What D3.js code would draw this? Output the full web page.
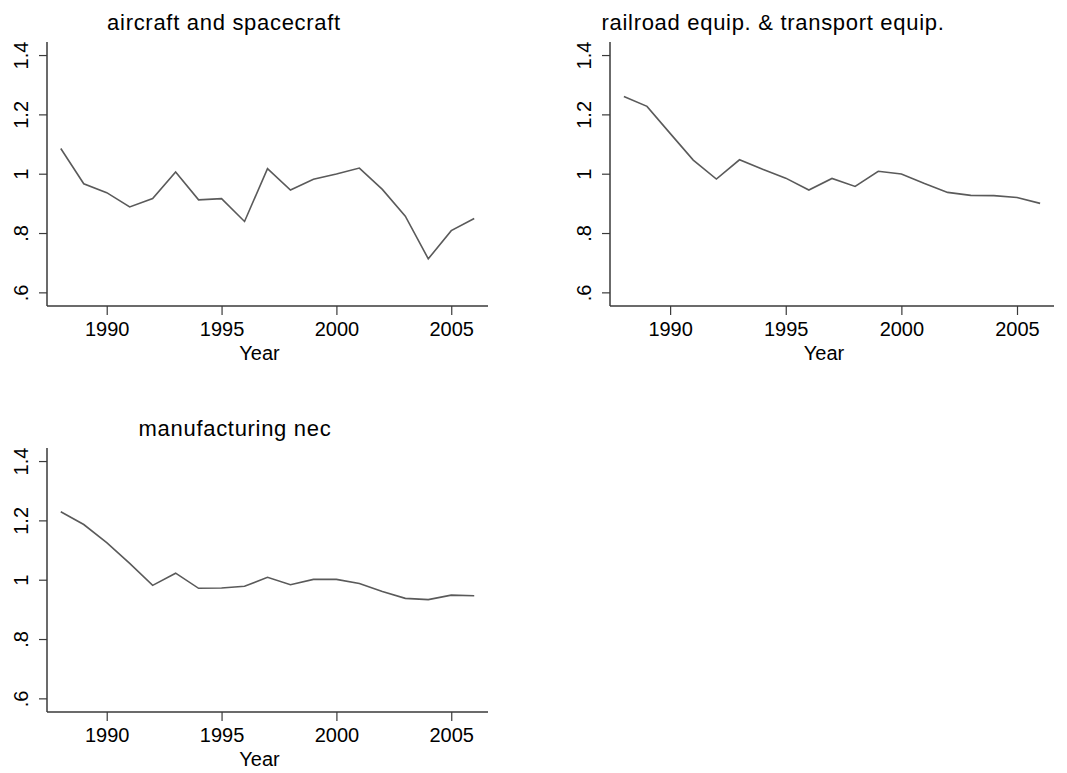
<!DOCTYPE html>
<html>
<head>
<meta charset="utf-8">
<script src="https://cdn.jsdelivr.net/npm/d3@7"></script>
<style>
  body { margin: 0; background: #fff; }
  text { font-family: "Liberation Sans", Arial, sans-serif; fill: #000; }
</style>
</head>
<body>
<div id="chart"></div>
<script>
// data
var years = [1988, 1989, 1990, 1991, 1992, 1993, 1994, 1995, 1996, 1997,
             1998, 1999, 2000, 2001, 2002, 2003, 2004, 2005, 2006];
var aircraft = [1.085, 0.966, 0.936, 0.888, 0.916, 1.006, 0.912, 0.916, 0.839, 1.017,
                0.945, 0.981, 0.999, 1.019, 0.947, 0.857, 0.713, 0.808, 0.849];
var railroad = [1.260, 1.227, 1.136, 1.046, 0.982, 1.047, 1.015, 0.985, 0.945, 0.984,
                0.957, 1.008, 0.999, 0.967, 0.937, 0.927, 0.926, 0.920, 0.900];
var manufacturing = [1.229, 1.186, 1.125, 1.055, 0.981, 1.022, 0.971, 0.972, 0.978, 1.008,
                     0.983, 1.001, 1.001, 0.987, 0.960, 0.937, 0.933, 0.948, 0.946];
var titles = ["aircraft and spacecraft", "railroad equip. & transport equip.", "manufacturing nec"];
var xTicks = [1990, 1995, 2000, 2005];
var yTicks = [0.6, 0.8, 1, 1.2, 1.4];
var yTickLabels = [".6", ".8", "1", "1.2", "1.4"];

var panels = [
  {values: aircraft, title: titles[0], left: 47, right: 488, top: 42, bottom: 306, titleX: 224},
  {values: railroad, title: titles[1], left: 610, right: 1054, top: 42, bottom: 306, titleX: 773},
  {values: manufacturing, title: titles[2], left: 47, right: 488, top: 448, bottom: 712, titleX: 235}
];

var svg = d3.select("#chart").append("svg")
  .attr("width", 1067)
  .attr("height", 773);

var axisColor = "#3a3a3a";
var lineColor = "#5a5a5a";

panels.forEach(function (p) {
  var x = d3.scaleLinear().domain([1987.4, 2006.6]).range([p.left, p.right]);
  var y = d3.scaleLinear().domain([0.554, 1.444]).range([p.bottom, p.top]);

  var g = svg.append("g");

  // title
  g.append("text")
    .attr("x", p.titleX)
    .attr("y", p.top - 12)
    .attr("text-anchor", "middle")
    .style("font-size", "22px")
    .style("letter-spacing", "0.7px")
    .text(p.title);

  // y axis
  var yAxis = d3.axisLeft(y)
    .tickValues(yTicks)
    .tickSize(8)
    .tickPadding(0)
    .tickFormat(function (d, i) { return yTickLabels[i]; });
  var ya = g.append("g")
    .attr("transform", "translate(" + p.left + ",0)")
    .call(yAxis);
  ya.select(".domain").attr("d", "M0," + p.bottom + "V" + p.top)
    .attr("stroke", axisColor).attr("stroke-width", 1.5);
  ya.selectAll(".tick line").attr("stroke", axisColor).attr("stroke-width", 1.2);
  ya.selectAll(".tick text")
    .attr("x", null).attr("dy", null)
    .attr("transform", "translate(-19,0) rotate(-90)")
    .attr("text-anchor", "middle")
    .style("font-size", "20px")
    .style("font-family", "Liberation Sans, Arial, sans-serif")
    .attr("fill", "#000");

  // x axis
  var xAxis = d3.axisBottom(x)
    .tickValues(xTicks)
    .tickSize(9)
    .tickPadding(0)
    .tickFormat(d3.format("d"));
  var xa = g.append("g")
    .attr("transform", "translate(0," + p.bottom + ")")
    .call(xAxis);
  xa.select(".domain").attr("d", "M" + p.left + ",0H" + p.right)
    .attr("stroke", axisColor).attr("stroke-width", 1.5);
  xa.selectAll(".tick line").attr("stroke", axisColor).attr("stroke-width", 1.2);
  xa.selectAll(".tick text")
    .attr("y", 30).attr("dy", null)
    .style("font-size", "20px")
    .style("font-family", "Liberation Sans, Arial, sans-serif")
    .attr("fill", "#000");

  g.append("text")
    .attr("x", (p.left + p.right) / 2 - 8)
    .attr("y", p.bottom + 54)
    .attr("text-anchor", "middle")
    .style("font-size", "20px")
    .text("Year");

  // series line
  var line = d3.line()
    .x(function (d, i) { return x(years[i]); })
    .y(function (d) { return y(d); });
  g.append("path")
    .datum(p.values)
    .attr("d", line)
    .attr("fill", "none")
    .attr("stroke", lineColor)
    .attr("stroke-width", 1.6);
});
</script>
</body>
</html>
